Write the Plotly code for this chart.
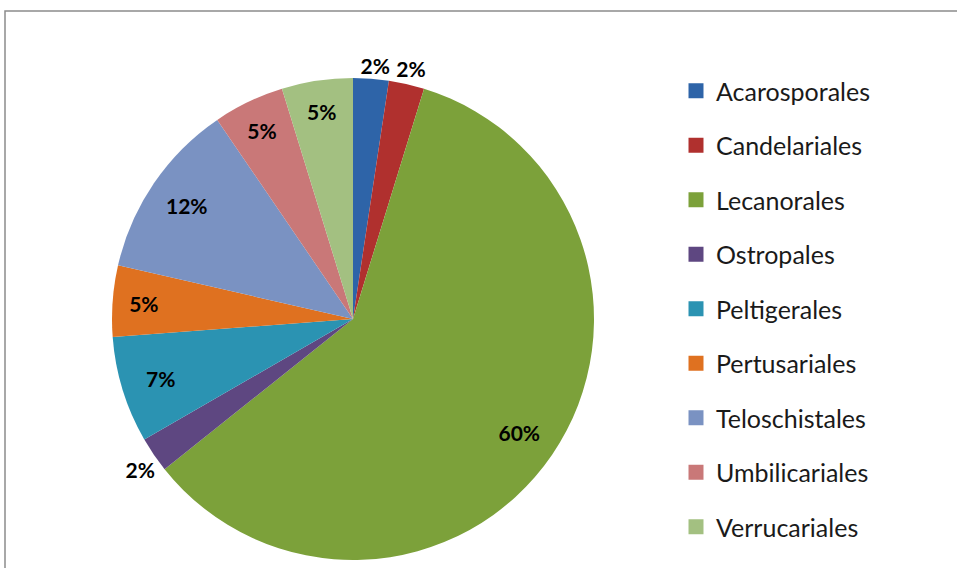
import plotly.graph_objects as go

# Data (counts giving the displayed percentages)
orders = ["Acarosporales", "Candelariales", "Lecanorales", "Ostropales", "Peltigerales",
          "Pertusariales", "Teloschistales", "Umbilicariales", "Verrucariales"]
counts = [1, 1, 25, 1, 3, 2, 5, 2, 2]
colors = ["#2E64A8", "#B0302E", "#7CA13A", "#5E4781", "#2B93B2",
          "#DF7120", "#7A92C2", "#C97878", "#A3C081"]
# label placement: which slices carry their percentage inside the pie
inside_lbl = [False, False, True, False, True, True, True, True, True]
# outside labels, each on its own transparent pie (so they are not scooted),
# with a small angular nudge to centre them over their slice like the original
outside_groups = [
    ([True, False, False, False, False, False, False, False, False], -4),
    ([False, True, False, False, False, False, False, False, False], -4),
    ([False, False, False, True, False, False, False, False, False], -3),
]

W, H = 957, 568
FONT = "Lato"
LBL_FONT = dict(family=FONT, size=21, color="black", weight="bold")
DOMAIN = dict(x=[112 / W, 594 / W], y=[8 / H, 490 / H])
CLEAR = ["rgba(0,0,0,0)"] * len(orders)

fig = go.Figure()
# coloured pie
fig.add_trace(go.Pie(
    labels=orders, values=counts, sort=False, direction="clockwise", rotation=0,
    marker=dict(colors=colors, line=dict(width=0)),
    textposition="none", domain=DOMAIN, showlegend=False,
    hoverinfo="label+percent",
))
# transparent ring carrying the inside labels further out, like the original
fig.add_trace(go.Pie(
    labels=orders, values=counts, sort=False, direction="clockwise", rotation=0,
    hole=0.67, marker=dict(colors=CLEAR, line=dict(width=0)),
    texttemplate="%{percent:.0%}",
    textposition=["inside" if f else "none" for f in inside_lbl],
    insidetextorientation="horizontal", textfont=LBL_FONT,
    domain=DOMAIN, showlegend=False, hoverinfo="skip",
))
# transparent pies carrying the outside labels
for grp, rot in outside_groups:
    fig.add_trace(go.Pie(
        labels=orders, values=counts, sort=False, direction="clockwise", rotation=rot,
        marker=dict(colors=CLEAR, line=dict(width=0)),
        texttemplate="%{percent:.0%}",
        textposition=["outside" if f else "none" for f in grp],
        textfont=LBL_FONT, domain=DOMAIN, showlegend=False, hoverinfo="skip",
    ))

# Legend entries (one per order, each in its own group for spacing)
for name, col in zip(orders, colors):
    fig.add_trace(go.Scatter(
        x=[None], y=[None], mode="markers", name=name, legendgroup=name,
        marker=dict(symbol="square", size=15, color=col),
    ))

fig.update_layout(
    width=W, height=H,
    margin=dict(l=0, r=0, t=0, b=0),
    paper_bgcolor="white", plot_bgcolor="white",
    xaxis=dict(visible=False), yaxis=dict(visible=False),
    uniformtext=dict(minsize=21, mode="show"),
    legend=dict(x=676 / W, y=1 - 68 / H, xanchor="left", yanchor="top",
                font=dict(family=FONT, size=25, color="#1a1a1a"),
                tracegroupgap=19, bgcolor="rgba(0,0,0,0)"),
    shapes=[dict(type="rect", xref="paper", yref="paper",
                 x0=5 / W, x1=1.05, y0=-0.05, y1=1 - 11 / H,
                 line=dict(color="#8c8c8c", width=1.5), layer="below")],
)

fig.write_html("out.html", config={"displayModeBar": False},
               post_script="document.body.style.margin='0';")
